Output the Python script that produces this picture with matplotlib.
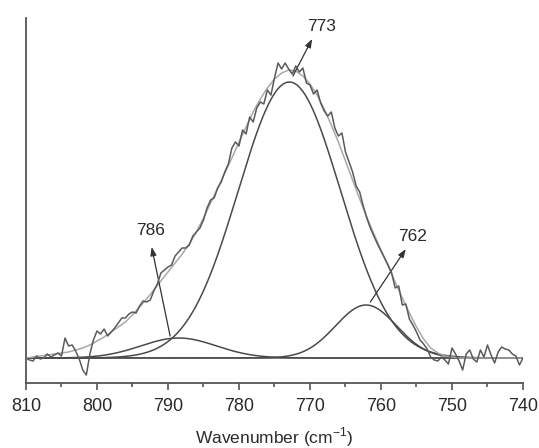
import numpy as np
import matplotlib
matplotlib.use("Agg")
import matplotlib.pyplot as plt

plt.rcParams['font.family'] = ['Liberation Sans', 'DejaVu Sans']
plt.rcParams['mathtext.fontset'] = 'custom'
plt.rcParams['mathtext.rm'] = 'Liberation Sans'

# measured spectrum, 810 -> 740 cm-1 in 0.5 cm-1 steps
spectrum = [
    0.00, -0.02, -0.03, 0.02, -0.01, 0.00, 0.04, 0.01, 0.03, 0.05,
    0.02, 0.20, 0.12, 0.13, 0.07, -0.01, -0.12, -0.17, 0.04, 0.18,
    0.27, 0.24, 0.29, 0.22, 0.26, 0.30, 0.35, 0.40, 0.40, 0.44,
    0.46, 0.45, 0.52, 0.57, 0.56, 0.58, 0.67, 0.74, 0.85, 0.88,
    0.91, 0.93, 1.02, 1.06, 1.10, 1.10, 1.13, 1.22, 1.26, 1.30,
    1.38, 1.50, 1.58, 1.60, 1.70, 1.76, 1.86, 1.94, 2.10, 2.16,
    2.12, 2.28, 2.24, 2.41, 2.36, 2.50, 2.56, 2.54, 2.68, 2.63,
    2.80, 2.95, 2.89, 2.95, 2.89, 2.84, 2.92, 2.86, 2.90, 2.75,
    2.73, 2.64, 2.68, 2.55, 2.47, 2.42, 2.46, 2.30, 2.22, 2.25,
    2.06, 1.96, 1.86, 1.72, 1.66, 1.52, 1.40, 1.30, 1.22, 1.14,
    1.07, 1.00, 0.93, 0.85, 0.70, 0.72, 0.53, 0.54, 0.39, 0.33,
    0.26, 0.18, 0.14, 0.09, 0.01, -0.02, -0.03, 0.01, -0.02, -0.06,
    0.10, 0.04, -0.03, -0.12, 0.04, 0.08, -0.01, -0.04, 0.08, 0.01,
    0.13, 0.03, -0.05, 0.06, 0.11, 0.09, 0.08, 0.04, 0.02, -0.07,
    0.00,
]

# cumulative fit, 810 -> 740 cm-1 in 1 cm-1 steps
fit_sum = [
    0.00, 0.01, 0.02, 0.03, 0.04, 0.05, 0.06, 0.08, 0.10, 0.13,
    0.17, 0.21, 0.26, 0.31, 0.36, 0.43, 0.51, 0.59, 0.68, 0.77,
    0.86, 0.95, 1.04, 1.14, 1.26, 1.40, 1.55, 1.70, 1.85, 2.00,
    2.16, 2.31, 2.46, 2.59, 2.70, 2.79, 2.85, 2.88, 2.87, 2.82,
    2.74, 2.63, 2.49, 2.33, 2.16, 1.97, 1.78, 1.59, 1.41, 1.24,
    1.08, 0.92, 0.76, 0.60, 0.45, 0.31, 0.19, 0.10, 0.05, 0.02,
    0.01, 0.00, 0.00, 0.00, 0.00, 0.00, 0.00, 0.00, 0.00, 0.00,
    0.00,
]

# gaussian components
peak_centers = [788.5, 772.9, 762.1]
peak_heights = [0.20, 2.76, 0.53]
peak_sigmas = [5.3, 7.2, 4.3]

# annotations: label, label position, arrow head, arrow tail
labels = ['786', '773', '762']
label_pos = [(792.4, 1.28), (768.3, 3.32), (755.5, 1.22)]
arrow_head = [(792.3, 1.11), (769.7, 3.19), (756.5, 1.09)]
arrow_tail = [(789.7, 0.22), (772.4, 2.82), (761.5, 0.56)]

x_ticks = [810, 800, 790, 780, 770, 760, 750, 740]

fig = plt.figure(figsize=(5.39, 4.48), dpi=100)
ax = fig.add_axes([0.0482, 0.1451, 0.9221, 0.8147])

x_spec = np.linspace(810, 740, len(spectrum))
x_fit = np.linspace(810, 740, len(fit_sum))
x_fine = np.linspace(810, 740, 701)

ax.axhline(0, color='#888888', lw=1.4, zorder=1)
for c, h, s in zip(peak_centers, peak_heights, peak_sigmas):
    ax.plot(x_fine, h * np.exp(-(x_fine - c) ** 2 / (2 * s ** 2)),
            color='#4a4a4a', lw=1.1, zorder=2)
ax.plot(x_fit, fit_sum, color='#a8a8a8', lw=1.1, zorder=3)
ax.plot(x_spec, spectrum, color='#5a5a5a', lw=1.1, zorder=4)

for lab, p, hd, tl in zip(labels, label_pos, arrow_head, arrow_tail):
    ax.text(p[0], p[1], lab, ha='center', va='center', fontsize=12.5, color='#2a2a2a')
    ax.annotate('', xy=hd, xytext=tl,
                arrowprops=dict(arrowstyle='-|>,head_length=0.5,head_width=0.18',
                                color='#333333', lw=0.9, shrinkA=0, shrinkB=0))

ax.set_xlim(810, 740)
ax.set_ylim(-0.25, 3.40)
ax.set_xticks(x_ticks)
ax.set_xticks(np.arange(805, 740, -10), minor=True)
ax.set_yticks([])
ax.tick_params(axis='x', which='major', direction='out', length=5, width=1.2,
               color='#555555', labelsize=13, labelcolor='#2a2a2a', pad=6)
ax.tick_params(axis='x', which='minor', direction='out', length=3, width=1.2, color='#555555')
for side in ['top', 'right']:
    ax.spines[side].set_visible(False)
for side in ['left', 'bottom']:
    ax.spines[side].set_color('#555555')
    ax.spines[side].set_linewidth(1.3)

ax.set_xlabel('Wavenumber (cm$^{-1}$)', fontsize=12.5, color='#2a2a2a', labelpad=7)

fig.savefig('out.png', dpi=100, facecolor='white')
